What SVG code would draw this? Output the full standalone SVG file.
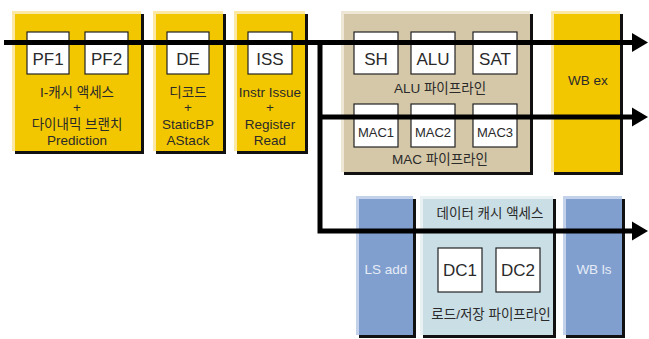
<svg xmlns="http://www.w3.org/2000/svg" width="649" height="339" viewBox="0 0 649 339">
<defs>
<style>
.sh{fill:#111}
.yl{fill:#FBE7A6}.y{fill:#F3C700}
.tl{fill:#EFE7D6}.t{fill:#D5C8A9}
.bl{fill:#C4D1EA}.b{fill:#809FCF}
.cl{fill:#E9F1F3}.c{fill:#CADFE5}
.wb{fill:#fff;stroke:#222;stroke-width:1.2}
text{font-family:"Liberation Sans","Noto Sans CJK KR",sans-serif;text-anchor:middle;fill:#2a2a2a}
.big{font-size:17px}
.mid{font-size:13.5px}
.sm{font-size:13px}
.wt{fill:#E6ECF6}
.conn{fill:none;stroke:#000;stroke-width:5;stroke-linejoin:miter}
</style>
<marker id="ah" markerUnits="userSpaceOnUse" markerWidth="16" markerHeight="20" refX="0" refY="10" orient="auto">
<path d="M0,0.5 L16,10 L0,19.5 z" fill="#000"/>
</marker>
</defs>
<rect width="649" height="339" fill="#fff"/>

<g id="fetch">
<rect class="sh" x="15" y="14" width="129" height="140"/>
<rect class="yl" x="12" y="11" width="129" height="140"/>
<rect class="y" x="15" y="14" width="126" height="137"/>
<g id="pf1"><rect class="wb" x="27" y="32" width="42" height="42"/><text class="big" x="48" y="65">PF1</text></g>
<g id="pf2"><rect class="wb" x="85" y="32" width="43" height="42"/><text class="big" x="106.5" y="65">PF2</text></g>
<text class="mid" x="77" y="97">I-캐시 액세스</text>
<text class="mid" x="77" y="112">+</text>
<text class="mid" x="77" y="129">다이내믹 브랜치</text>
<text class="mid" x="77" y="145">Prediction</text>
</g>

<g id="decode">
<rect class="sh" x="156" y="14" width="70" height="140"/>
<rect class="yl" x="153" y="11" width="70" height="140"/>
<rect class="y" x="156" y="14" width="67" height="137"/>
<g id="de"><rect class="wb" x="167" y="32" width="42" height="42"/><text class="big" x="188" y="65">DE</text></g>
<text class="mid" x="188" y="97">디코드</text>
<text class="mid" x="188" y="112">+</text>
<text class="mid" x="188" y="129">StaticBP</text>
<text class="mid" x="188" y="145">AStack</text>
</g>

<g id="issue">
<rect class="sh" x="237" y="14" width="71" height="140"/>
<rect class="yl" x="234" y="11" width="71" height="140"/>
<rect class="y" x="237" y="14" width="68" height="137"/>
<g id="iss"><rect class="wb" x="248" y="32" width="44" height="42"/><text class="big" x="270" y="65">ISS</text></g>
<text class="mid" x="270" y="97">Instr Issue</text>
<text class="mid" x="270" y="112">+</text>
<text class="mid" x="270" y="129">Register</text>
<text class="mid" x="270" y="145">Read</text>
</g>

<g id="exec">
<rect class="sh" x="344" y="14" width="189" height="161"/>
<rect class="tl" x="341" y="11" width="189" height="161"/>
<rect class="t" x="344" y="14" width="186" height="158"/>
<g id="sh"><rect class="wb" x="354" y="32" width="44" height="42"/><text class="big" x="376" y="65">SH</text></g>
<g id="alu"><rect class="wb" x="411" y="32" width="44" height="42"/><text class="big" x="433" y="65">ALU</text></g>
<g id="sat"><rect class="wb" x="473" y="32" width="44" height="42"/><text class="big" x="495" y="65">SAT</text></g>
<text class="mid" x="440" y="93">ALU 파이프라인</text>
<g id="mac1"><rect class="wb" x="354" y="104" width="44" height="43"/><text class="sm" x="376" y="137">MAC1</text></g>
<g id="mac2"><rect class="wb" x="411" y="104" width="44" height="43"/><text class="sm" x="433" y="137">MAC2</text></g>
<g id="mac3"><rect class="wb" x="473" y="104" width="44" height="43"/><text class="sm" x="495" y="137">MAC3</text></g>
<text class="mid" x="440" y="164">MAC 파이프라인</text>
</g>

<g id="wbex">
<rect class="sh" x="554" y="14" width="69" height="161"/>
<rect class="yl" x="551" y="11" width="69" height="161"/>
<rect class="y" x="554" y="14" width="66" height="158"/>
<text class="mid" x="588" y="85">WB ex</text>
</g>

<g id="lsadd">
<rect class="sh" x="359" y="199" width="57" height="139"/>
<rect class="bl" x="356" y="196" width="57" height="139"/>
<rect class="b" x="359" y="199" width="54" height="136"/>
<text class="mid wt" x="386" y="274">LS add</text>
</g>

<g id="dcache">
<rect class="sh" x="423" y="199" width="133" height="139"/>
<rect class="cl" x="420" y="196" width="133" height="139"/>
<rect class="c" x="423" y="199" width="130" height="136"/>
<text class="mid" x="490" y="218">데이터 캐시 액세스</text>
<g id="dc1"><rect class="wb" x="438" y="248" width="44" height="44"/><text class="big" x="460" y="276">DC1</text></g>
<g id="dc2"><rect class="wb" x="496" y="248" width="44" height="44"/><text class="big" x="518" y="276">DC2</text></g>
<text class="mid" x="491" y="319">로드/저장 파이프라인</text>
</g>

<g id="wbls">
<rect class="sh" x="566" y="199" width="59" height="139"/>
<rect class="bl" x="563" y="196" width="59" height="139"/>
<rect class="b" x="566" y="199" width="56" height="136"/>
<text class="mid wt" x="594" y="274">WB ls</text>
</g>

<g id="connectors">
<path class="conn" d="M4,42.5 H632" marker-end="url(#ah)"/>
<path class="conn" d="M320,40 V231 H632" marker-end="url(#ah)"/>
<path class="conn" d="M320,117 H632" marker-end="url(#ah)"/>
</g>
</svg>
